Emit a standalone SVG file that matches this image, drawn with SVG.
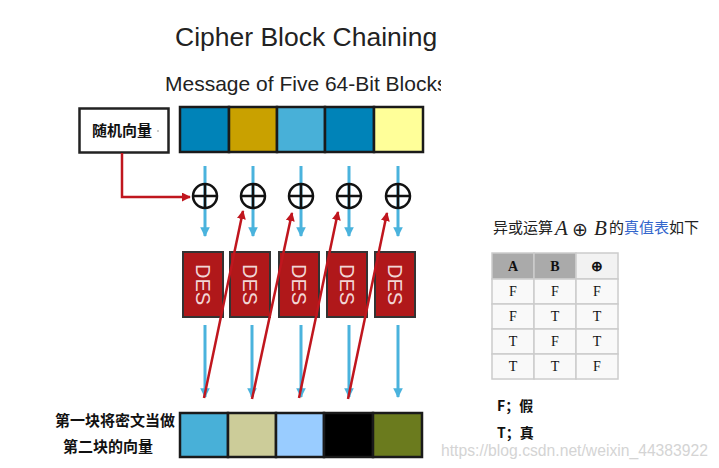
<svg xmlns="http://www.w3.org/2000/svg" width="719" height="468" viewBox="0 0 719 468">
<defs>
<style>
.t{font-family:"Liberation Sans",Arial,sans-serif;fill:#222}
.cjk{font-family:"Noto Sans CJK SC","Liberation Sans",sans-serif;fill:#111;font-weight:bold}
.blk{stroke:#1a1a1a;stroke-width:2.5}
.blue{stroke:#4AB3DD;stroke-width:3;fill:none}
.red{stroke:#C0161E;stroke-width:2.5;fill:none}
.xor{fill:none;stroke:#111;stroke-width:2.5}
.des{fill:#B0181A;stroke:#333;stroke-width:2}
.dest{font-family:"Liberation Sans",Arial,sans-serif;font-size:20px;fill:#F2D6D6}
.cell{fill:#F9F9F9;stroke:#CCCCCC;stroke-width:1.5}
.tt{font-family:"Liberation Serif","Times New Roman",serif;font-size:14px;fill:#111;text-anchor:middle}
</style>
<marker id="ab" viewBox="0 0 10 10" refX="9" refY="5" markerWidth="3.2" markerHeight="3.2" orient="auto" markerUnits="strokeWidth"><path d="M0,0 L10,5 L0,10 z" fill="#4AB3DD"/></marker>
<marker id="ar" viewBox="0 0 10 10" refX="9" refY="5" markerWidth="3.6" markerHeight="3.6" orient="auto" markerUnits="strokeWidth"><path d="M0,0 L10,5 L0,10 z" fill="#C0161E"/></marker>
<clipPath id="cl" clipPathUnits="userSpaceOnUse"><rect x="0" y="0" width="441" height="468"/></clipPath>
</defs>
<rect width="719" height="468" fill="#fff"/>
<text class="t" x="175" y="46" font-size="26.5">Cipher Block Chaining</text>
<g clip-path="url(#cl)">
<text class="t" x="165" y="91" font-size="21">Message of Five 64-Bit Blocks</text>
</g>

<g id="iv">
<rect x="79.5" y="108.5" width="89" height="44" fill="#fff" stroke="#222" stroke-width="2.5"/>
<text class="cjk" x="92" y="136" font-size="15">随机向量</text>
<circle cx="158" cy="131" r="0.8" fill="#888"/>
</g>

<g id="plaintext">
<rect class="blk" x="180" y="107" width="49" height="45" fill="#0083B8"/>
<rect class="blk" x="229" y="107" width="48" height="45" fill="#C9A100"/>
<rect class="blk" x="277" y="107" width="48" height="45" fill="#48B0D8"/>
<rect class="blk" x="325" y="107" width="49" height="45" fill="#0083B8"/>
<rect class="blk" x="374" y="107" width="49" height="45" fill="#FFFF99"/>
</g>

<g id="connectors">
<line class="blue" x1="205" y1="166" x2="205" y2="236" marker-end="url(#ab)"/>
<line class="blue" x1="253" y1="166" x2="253" y2="236" marker-end="url(#ab)"/>
<line class="blue" x1="301" y1="166" x2="301" y2="236" marker-end="url(#ab)"/>
<line class="blue" x1="349" y1="166" x2="349" y2="236" marker-end="url(#ab)"/>
<line class="blue" x1="398" y1="166" x2="398" y2="236" marker-end="url(#ab)"/>
<line class="blue" x1="205" y1="325" x2="205" y2="397" marker-end="url(#ab)"/>
<line class="blue" x1="252" y1="325" x2="252" y2="397" marker-end="url(#ab)"/>
<line class="blue" x1="301" y1="325" x2="301" y2="397" marker-end="url(#ab)"/>
<line class="blue" x1="349" y1="325" x2="349" y2="397" marker-end="url(#ab)"/>
<line class="blue" x1="398" y1="325" x2="398" y2="397" marker-end="url(#ab)"/>
<path class="red" d="M122,153 V197 H190" marker-end="url(#ar)"/>
</g>

<g id="xor1"><circle class="xor" cx="205" cy="196" r="12"/><path class="xor" d="M193,196 H217 M205,184 V208"/></g>
<g id="xor2"><circle class="xor" cx="253" cy="196" r="12"/><path class="xor" d="M241,196 H265 M253,184 V208"/></g>
<g id="xor3"><circle class="xor" cx="301" cy="196" r="12"/><path class="xor" d="M289,196 H313 M301,184 V208"/></g>
<g id="xor4"><circle class="xor" cx="349" cy="196" r="12"/><path class="xor" d="M337,196 H361 M349,184 V208"/></g>
<g id="xor5"><circle class="xor" cx="398" cy="196" r="12"/><path class="xor" d="M386,196 H410 M398,184 V208"/></g>

<g id="des1"><rect class="des" x="183" y="252" width="40" height="65"/><text class="dest" transform="translate(196,284.5) rotate(90)" text-anchor="middle">DES</text></g>
<g id="des2"><rect class="des" x="230" y="252" width="40" height="65"/><text class="dest" transform="translate(243,284.5) rotate(90)" text-anchor="middle">DES</text></g>
<g id="des3"><rect class="des" x="279" y="252" width="40" height="65"/><text class="dest" transform="translate(292,284.5) rotate(90)" text-anchor="middle">DES</text></g>
<g id="des4"><rect class="des" x="327" y="252" width="40" height="65"/><text class="dest" transform="translate(340,284.5) rotate(90)" text-anchor="middle">DES</text></g>
<g id="des5"><rect class="des" x="375" y="252" width="40" height="65"/><text class="dest" transform="translate(388,284.5) rotate(90)" text-anchor="middle">DES</text></g>

<g id="feedback">
<line class="red" x1="204" y1="398" x2="243" y2="211" marker-end="url(#ar)"/>
<line class="red" x1="252" y1="399" x2="292" y2="213" marker-end="url(#ar)"/>
<line class="red" x1="299" y1="398" x2="338" y2="212" marker-end="url(#ar)"/>
<line class="red" x1="348" y1="399" x2="387" y2="213" marker-end="url(#ar)"/>
</g>

<g id="ciphertext">
<rect class="blk" x="180" y="413" width="48" height="44" fill="#48B0D8"/>
<rect class="blk" x="228" y="413" width="48" height="44" fill="#CCCC99"/>
<rect class="blk" x="276" y="413" width="48" height="44" fill="#99CCFF"/>
<rect class="blk" x="324" y="413" width="49" height="44" fill="#000000"/>
<rect class="blk" x="373" y="413" width="49" height="44" fill="#6B7B1E"/>
</g>

<g id="label">
<text class="cjk" x="55" y="426" font-size="15">第一块将密文当做</text>
<text class="cjk" x="63" y="452" font-size="15">第二块的向量</text>
</g>

<g id="xor-caption">
<text font-family="'Noto Sans CJK SC',sans-serif" font-size="15" fill="#222" x="493" y="233">异或运算</text>
<text font-family="'Liberation Serif',serif" font-style="italic" font-size="21" fill="#222" x="555" y="235">A</text>
<text font-family="'DejaVu Sans',sans-serif" font-size="19" fill="#222" x="572" y="236">⊕</text>
<text font-family="'Liberation Serif',serif" font-style="italic" font-size="21" fill="#222" x="594" y="235">B</text>
<text font-family="'Noto Sans CJK SC',sans-serif" font-size="15" fill="#222" x="609" y="233">的<tspan fill="#3366CC">真值表</tspan>如下</text>
</g>

<g id="truth-table">
<rect x="492" y="253" width="42" height="26" fill="#AAAAAA" stroke="#CCCCCC" stroke-width="1.5"/>
<rect x="534" y="253" width="42" height="26" fill="#AAAAAA" stroke="#CCCCCC" stroke-width="1.5"/>
<rect x="576" y="253" width="42" height="26" fill="#F2F2F2" stroke="#CCCCCC" stroke-width="1.5"/>
<text class="tt" x="513" y="271" font-weight="bold" font-size="15">A</text>
<text class="tt" x="555" y="271" font-weight="bold" font-size="15">B</text>
<text class="tt" x="597" y="271" font-weight="bold" font-size="15" font-family="'DejaVu Sans',sans-serif">⊕</text>
<rect class="cell" x="492" y="279" width="42" height="25"/><rect class="cell" x="534" y="279" width="42" height="25"/><rect class="cell" x="576" y="279" width="42" height="25"/>
<rect class="cell" x="492" y="304" width="42" height="25"/><rect class="cell" x="534" y="304" width="42" height="25"/><rect class="cell" x="576" y="304" width="42" height="25"/>
<rect class="cell" x="492" y="329" width="42" height="25"/><rect class="cell" x="534" y="329" width="42" height="25"/><rect class="cell" x="576" y="329" width="42" height="25"/>
<rect class="cell" x="492" y="354" width="42" height="25"/><rect class="cell" x="534" y="354" width="42" height="25"/><rect class="cell" x="576" y="354" width="42" height="25"/>
<text class="tt" x="513" y="296">F</text><text class="tt" x="555" y="296">F</text><text class="tt" x="597" y="296">F</text>
<text class="tt" x="513" y="321">F</text><text class="tt" x="555" y="321">T</text><text class="tt" x="597" y="321">T</text>
<text class="tt" x="513" y="346">T</text><text class="tt" x="555" y="346">F</text><text class="tt" x="597" y="346">T</text>
<text class="tt" x="513" y="371">T</text><text class="tt" x="555" y="371">T</text><text class="tt" x="597" y="371">F</text>
</g>

<g id="legend">
<text class="cjk" x="497" y="411" font-size="14">F；假</text>
<text class="cjk" x="497" y="438" font-size="14">T；真</text>
</g>

<text x="441" y="456" font-family="'Liberation Sans',Arial,sans-serif" font-size="16" textLength="267" lengthAdjust="spacingAndGlyphs" fill="#D4D4D4">https://blog.csdn.net/weixin_44383922</text>
</svg>
